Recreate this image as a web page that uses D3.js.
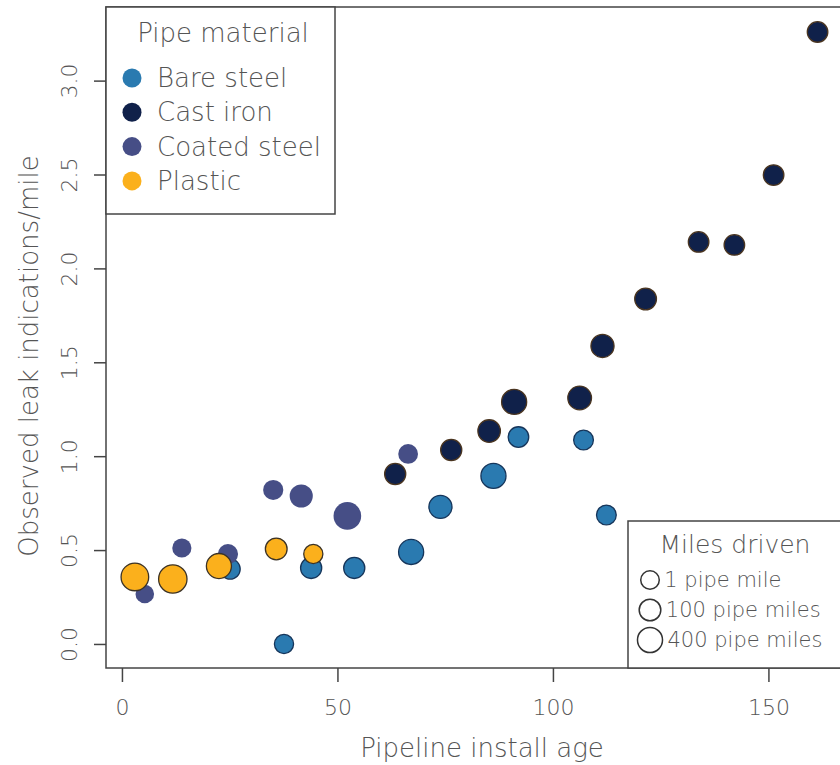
<!DOCTYPE html>
<html><head><meta charset="utf-8">
<script src="https://cdn.jsdelivr.net/npm/d3@7"></script>
<style>
body{margin:0;background:#fff}
text{font-family:"DejaVu Sans",Lato,sans-serif;font-weight:200;fill:#555}
</style>
</head><body>
<svg id="c" width="840" height="765"></svg>
<script>
// ---- data ----
const materials = ["Bare steel", "Cast iron", "Coated steel", "Plastic"];
const materialColors = ["#2a7ab0", "#10214a", "#464e86", "#fbb01c"];
const materialStrokes = ["#16355a", "#4a3520", "none", "#3b3226"];

const bareAge   = [92.0, 107.1, 86.2, 73.9, 112.4, 67.1, 53.9, 43.9, 25.1, 37.6];
const bareLeak  = [1.102, 1.086, 0.895, 0.730, 0.687, 0.490, 0.405, 0.405, 0.399, 0.0];
const bareMiles = [48, 21, 405, 207, 21, 405, 74, 74, 33, 8];

const castAge   = [161.4, 151.2, 133.8, 142.1, 121.5, 111.5, 106.2, 91.0, 85.2, 76.4, 63.4];
const castLeak  = [3.259, 2.497, 2.141, 2.125, 1.837, 1.587, 1.310, 1.289, 1.134, 1.033, 0.905];
const castMiles = [48, 48, 48, 48, 107, 207, 259, 405, 160, 74, 74];

const coatedAge   = [66.4, 35.1, 41.6, 52.3, 13.9, 24.6, 5.3];
const coatedLeak  = [1.012, 0.820, 0.788, 0.682, 0.511, 0.479, 0.266];
const coatedMiles = [21, 33, 207, 762, 8, 33, 1];

const plasticAge   = [3.0, 11.8, 22.5, 35.8, 44.4];
const plasticLeak  = [0.357, 0.346, 0.415, 0.506, 0.479];
const plasticMiles = [762, 894, 405, 107, 8];

const xTicks = [0, 50, 100, 150];
const yTicks = [0, 0.5, 1, 1.5, 2, 2.5, 3];
const legendMiles = [1, 100, 400];
const legendMilesLabels = ["1 pipe mile", "100 pipe miles", "400 pipe miles"];

// ---- build ----
const groups = [
  {age: bareAge, leak: bareLeak, miles: bareMiles},
  {age: castAge, leak: castLeak, miles: castMiles},
  {age: coatedAge, leak: coatedLeak, miles: coatedMiles},
  {age: plasticAge, leak: plasticLeak, miles: plasticMiles}
];
const pts = [];
groups.forEach((g, gi) => g.age.forEach((a, i) =>
  pts.push({m: gi, age: a, leak: g.leak[i], miles: g.miles[i]})));

const svg = d3.select("#c");
const L = 106, T = 7, R = 846, B = 668;
const x = d3.scaleLinear().domain([-3.7, 168]).range([L, R]);
const y = d3.scaleLinear().domain([-0.128, 3.392]).range([B, T]);
const r = d3.scaleSqrt().domain([0, 1000]).range([9.1, 14.5]);

// points
svg.append("g").selectAll("circle").data(pts).join("circle")
  .attr("cx", d => x(d.age)).attr("cy", d => y(d.leak))
  .attr("r", d => r(d.miles))
  .attr("fill", d => materialColors[d.m])
  .attr("stroke", d => materialStrokes[d.m])
  .attr("stroke-width", 1.3);

// box
svg.append("rect").attr("x", L).attr("y", T).attr("width", R - L).attr("height", B - T)
  .attr("fill", "none").attr("stroke", "#444").attr("stroke-width", 1.5);

// x axis
const gx = svg.append("g").attr("transform", `translate(0,${B})`)
  .call(d3.axisBottom(x).tickValues(xTicks).tickSize(14).tickPadding(17).tickFormat(d3.format("d")));
gx.select(".domain").remove();
gx.selectAll("line").attr("stroke", "#444").attr("stroke-width", 1.5);
gx.selectAll("text").style("font-size", "22px").attr("fill", "#666");

// y axis
const gy = svg.append("g").attr("transform", `translate(${L},0)`)
  .call(d3.axisLeft(y).tickValues(yTicks).tickSize(12).tickFormat(d3.format(".1f")));
gy.select(".domain").remove();
gy.selectAll("line").attr("stroke", "#444").attr("stroke-width", 1.5);
gy.selectAll("text").style("font-size", "22px").attr("fill", "#666")
  .attr("transform", "rotate(-90)").attr("x", 0).attr("y", -29).attr("dy", 0)
  .attr("text-anchor", "middle");

// axis titles
svg.append("text").attr("x", 482).attr("y", 757).attr("text-anchor", "middle")
  .style("font-size", "26px").attr("fill", "#666").text("Pipeline install age");
svg.append("text").attr("transform", "translate(38,356) rotate(-90)").attr("text-anchor", "middle")
  .style("font-size", "26px").attr("fill", "#666").text("Observed leak indications/mile");

// legend 1
const lg1 = svg.append("g");
lg1.append("rect").attr("x", L).attr("y", T).attr("width", 229).attr("height", 207)
  .attr("fill", "#fff").attr("stroke", "#444").attr("stroke-width", 1.5);
lg1.append("text").attr("x", 223).attr("y", 42).attr("text-anchor", "middle")
  .style("font-size", "26px").text("Pipe material");
materials.forEach((m, i) => {
  const cy = 78 + i * 34.3;
  lg1.append("circle").attr("cx", 132).attr("cy", cy).attr("r", 9.5).attr("fill", materialColors[i]);
  lg1.append("text").attr("x", 157).attr("y", cy + 9).style("font-size", "26px").text(m);
});

// legend 2
const lg2 = svg.append("g");
lg2.append("rect").attr("x", 628).attr("y", 521).attr("width", 230).attr("height", B - 521)
  .attr("fill", "#fff").attr("stroke", "#444").attr("stroke-width", 1.5);
lg2.append("text").attr("x", 735).attr("y", 553).attr("text-anchor", "middle")
  .style("font-size", "25px").text("Miles driven");
legendMiles.forEach((mv, i) => {
  const cy = 580 + i * 30;
  lg2.append("circle").attr("cx", 650).attr("cy", cy).attr("r", r(mv))
    .attr("fill", "none").attr("stroke", "#333").attr("stroke-width", 1.5);
  lg2.append("text").attr("x", 650 + r(mv) + 5).attr("y", cy + 7).style("font-size", "21px")
    .text(legendMilesLabels[i]);
});
</script>
</body></html>
